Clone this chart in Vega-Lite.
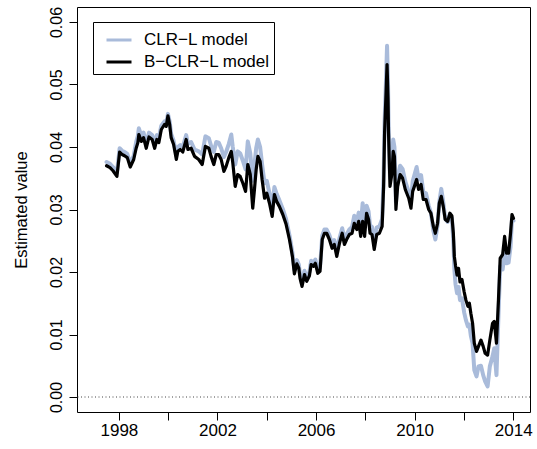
{
  "$schema": "https://vega.github.io/schema/vega-lite/v6.json",
  "width": 453,
  "height": 405,
  "autosize": {"type": "none"},
  "padding": {"left": 77, "top": 7, "right": 7, "bottom": 37},
  "background": "white",
  "datasets": {
    "series": [
      {"t": 1997.50, "CLR−L model": 0.0376, "B−CLR−L model": 0.0370},
      {"t": 1997.64, "CLR−L model": 0.0373, "B−CLR−L model": 0.0367},
      {"t": 1997.76, "CLR−L model": 0.0368, "B−CLR−L model": 0.0362},
      {"t": 1997.92, "CLR−L model": 0.0359, "B−CLR−L model": 0.0353},
      {"t": 1998.03, "CLR−L model": 0.0398, "B−CLR−L model": 0.0392},
      {"t": 1998.13, "CLR−L model": 0.0394, "B−CLR−L model": 0.0388},
      {"t": 1998.23, "CLR−L model": 0.0392, "B−CLR−L model": 0.0386},
      {"t": 1998.34, "CLR−L model": 0.0389, "B−CLR−L model": 0.0383},
      {"t": 1998.46, "CLR−L model": 0.0374, "B−CLR−L model": 0.0368},
      {"t": 1998.60, "CLR−L model": 0.0386, "B−CLR−L model": 0.0380},
      {"t": 1998.70, "CLR−L model": 0.0408, "B−CLR−L model": 0.0398},
      {"t": 1998.77, "CLR−L model": 0.0418, "B−CLR−L model": 0.0407},
      {"t": 1998.81, "CLR−L model": 0.0430, "B−CLR−L model": 0.0420},
      {"t": 1998.91, "CLR−L model": 0.0418, "B−CLR−L model": 0.0409},
      {"t": 1999.00, "CLR−L model": 0.0423, "B−CLR−L model": 0.0415},
      {"t": 1999.11, "CLR−L model": 0.0405, "B−CLR−L model": 0.0398},
      {"t": 1999.22, "CLR−L model": 0.0423, "B−CLR−L model": 0.0416},
      {"t": 1999.35, "CLR−L model": 0.0419, "B−CLR−L model": 0.0412},
      {"t": 1999.45, "CLR−L model": 0.0405, "B−CLR−L model": 0.0398},
      {"t": 1999.54, "CLR−L model": 0.0419, "B−CLR−L model": 0.0412},
      {"t": 1999.62, "CLR−L model": 0.0414, "B−CLR−L model": 0.0407},
      {"t": 1999.72, "CLR−L model": 0.0434, "B−CLR−L model": 0.0428},
      {"t": 1999.85, "CLR−L model": 0.0441, "B−CLR−L model": 0.0436},
      {"t": 1999.92, "CLR−L model": 0.0438, "B−CLR−L model": 0.0433},
      {"t": 1999.99, "CLR−L model": 0.0453, "B−CLR−L model": 0.0450},
      {"t": 2000.06, "CLR−L model": 0.0441, "B−CLR−L model": 0.0436},
      {"t": 2000.12, "CLR−L model": 0.0421, "B−CLR−L model": 0.0415},
      {"t": 2000.22, "CLR−L model": 0.0410, "B−CLR−L model": 0.0404},
      {"t": 2000.33, "CLR−L model": 0.0387, "B−CLR−L model": 0.0380},
      {"t": 2000.39, "CLR−L model": 0.0400, "B−CLR−L model": 0.0393},
      {"t": 2000.49, "CLR−L model": 0.0403, "B−CLR−L model": 0.0396},
      {"t": 2000.59, "CLR−L model": 0.0400, "B−CLR−L model": 0.0392},
      {"t": 2000.73, "CLR−L model": 0.0419, "B−CLR−L model": 0.0412},
      {"t": 2000.80, "CLR−L model": 0.0405, "B−CLR−L model": 0.0396},
      {"t": 2000.93, "CLR−L model": 0.0408, "B−CLR−L model": 0.0398},
      {"t": 2001.07, "CLR−L model": 0.0396, "B−CLR−L model": 0.0385},
      {"t": 2001.24, "CLR−L model": 0.0393, "B−CLR−L model": 0.0380},
      {"t": 2001.38, "CLR−L model": 0.0388, "B−CLR−L model": 0.0372},
      {"t": 2001.51, "CLR−L model": 0.0417, "B−CLR−L model": 0.0401},
      {"t": 2001.65, "CLR−L model": 0.0414, "B−CLR−L model": 0.0398},
      {"t": 2001.74, "CLR−L model": 0.0402, "B−CLR−L model": 0.0385},
      {"t": 2001.85, "CLR−L model": 0.0392, "B−CLR−L model": 0.0372},
      {"t": 2001.95, "CLR−L model": 0.0408, "B−CLR−L model": 0.0388},
      {"t": 2002.05, "CLR−L model": 0.0407, "B−CLR−L model": 0.0388},
      {"t": 2002.15, "CLR−L model": 0.0398, "B−CLR−L model": 0.0380},
      {"t": 2002.26, "CLR−L model": 0.0384, "B−CLR−L model": 0.0361},
      {"t": 2002.35, "CLR−L model": 0.0392, "B−CLR−L model": 0.0369},
      {"t": 2002.46, "CLR−L model": 0.0405, "B−CLR−L model": 0.0383},
      {"t": 2002.56, "CLR−L model": 0.0420, "B−CLR−L model": 0.0393},
      {"t": 2002.62, "CLR−L model": 0.0400, "B−CLR−L model": 0.0375},
      {"t": 2002.72, "CLR−L model": 0.0372, "B−CLR−L model": 0.0337},
      {"t": 2002.82, "CLR−L model": 0.0393, "B−CLR−L model": 0.0356},
      {"t": 2002.92, "CLR−L model": 0.0390, "B−CLR−L model": 0.0353},
      {"t": 2003.03, "CLR−L model": 0.0378, "B−CLR−L model": 0.0342},
      {"t": 2003.14, "CLR−L model": 0.0364, "B−CLR−L model": 0.0329},
      {"t": 2003.23, "CLR−L model": 0.0409, "B−CLR−L model": 0.0372},
      {"t": 2003.33, "CLR−L model": 0.0390, "B−CLR−L model": 0.0356},
      {"t": 2003.43, "CLR−L model": 0.0346, "B−CLR−L model": 0.0302},
      {"t": 2003.50, "CLR−L model": 0.0372, "B−CLR−L model": 0.0332},
      {"t": 2003.57, "CLR−L model": 0.0398, "B−CLR−L model": 0.0364},
      {"t": 2003.64, "CLR−L model": 0.0412, "B−CLR−L model": 0.0385},
      {"t": 2003.73, "CLR−L model": 0.0400, "B−CLR−L model": 0.0377},
      {"t": 2003.81, "CLR−L model": 0.0372, "B−CLR−L model": 0.0348},
      {"t": 2003.91, "CLR−L model": 0.0342, "B−CLR−L model": 0.0318},
      {"t": 2004.00, "CLR−L model": 0.0346, "B−CLR−L model": 0.0326},
      {"t": 2004.11, "CLR−L model": 0.0326, "B−CLR−L model": 0.0310},
      {"t": 2004.22, "CLR−L model": 0.0305, "B−CLR−L model": 0.0289},
      {"t": 2004.31, "CLR−L model": 0.0336, "B−CLR−L model": 0.0324},
      {"t": 2004.40, "CLR−L model": 0.0325, "B−CLR−L model": 0.0313},
      {"t": 2004.51, "CLR−L model": 0.0315, "B−CLR−L model": 0.0305},
      {"t": 2004.65, "CLR−L model": 0.0301, "B−CLR−L model": 0.0292},
      {"t": 2004.78, "CLR−L model": 0.0285, "B−CLR−L model": 0.0277},
      {"t": 2004.92, "CLR−L model": 0.0259, "B−CLR−L model": 0.0252},
      {"t": 2005.04, "CLR−L model": 0.0231, "B−CLR−L model": 0.0225},
      {"t": 2005.12, "CLR−L model": 0.0203, "B−CLR−L model": 0.0197},
      {"t": 2005.22, "CLR−L model": 0.0219, "B−CLR−L model": 0.0213},
      {"t": 2005.30, "CLR−L model": 0.0212, "B−CLR−L model": 0.0206},
      {"t": 2005.35, "CLR−L model": 0.0196, "B−CLR−L model": 0.0190},
      {"t": 2005.43, "CLR−L model": 0.0183, "B−CLR−L model": 0.0177},
      {"t": 2005.53, "CLR−L model": 0.0202, "B−CLR−L model": 0.0196},
      {"t": 2005.62, "CLR−L model": 0.0191, "B−CLR−L model": 0.0185},
      {"t": 2005.73, "CLR−L model": 0.0200, "B−CLR−L model": 0.0194},
      {"t": 2005.80, "CLR−L model": 0.0218, "B−CLR−L model": 0.0212},
      {"t": 2005.89, "CLR−L model": 0.0215, "B−CLR−L model": 0.0209},
      {"t": 2005.97, "CLR−L model": 0.0220, "B−CLR−L model": 0.0214},
      {"t": 2006.07, "CLR−L model": 0.0204, "B−CLR−L model": 0.0198},
      {"t": 2006.16, "CLR−L model": 0.0207, "B−CLR−L model": 0.0201},
      {"t": 2006.25, "CLR−L model": 0.0258, "B−CLR−L model": 0.0252},
      {"t": 2006.34, "CLR−L model": 0.0268, "B−CLR−L model": 0.0262},
      {"t": 2006.43, "CLR−L model": 0.0268, "B−CLR−L model": 0.0262},
      {"t": 2006.54, "CLR−L model": 0.0259, "B−CLR−L model": 0.0252},
      {"t": 2006.65, "CLR−L model": 0.0245, "B−CLR−L model": 0.0238},
      {"t": 2006.74, "CLR−L model": 0.0251, "B−CLR−L model": 0.0244},
      {"t": 2006.84, "CLR−L model": 0.0233, "B−CLR−L model": 0.0225},
      {"t": 2006.95, "CLR−L model": 0.0254, "B−CLR−L model": 0.0246},
      {"t": 2007.06, "CLR−L model": 0.0270, "B−CLR−L model": 0.0262},
      {"t": 2007.15, "CLR−L model": 0.0252, "B−CLR−L model": 0.0244},
      {"t": 2007.24, "CLR−L model": 0.0260, "B−CLR−L model": 0.0252},
      {"t": 2007.35, "CLR−L model": 0.0268, "B−CLR−L model": 0.0260},
      {"t": 2007.46, "CLR−L model": 0.0272, "B−CLR−L model": 0.0262},
      {"t": 2007.55, "CLR−L model": 0.0290, "B−CLR−L model": 0.0278},
      {"t": 2007.65, "CLR−L model": 0.0280, "B−CLR−L model": 0.0268},
      {"t": 2007.73, "CLR−L model": 0.0295, "B−CLR−L model": 0.0281},
      {"t": 2007.81, "CLR−L model": 0.0272, "B−CLR−L model": 0.0257},
      {"t": 2007.89, "CLR−L model": 0.0310, "B−CLR−L model": 0.0281},
      {"t": 2007.97, "CLR−L model": 0.0275, "B−CLR−L model": 0.0257},
      {"t": 2008.05, "CLR−L model": 0.0306, "B−CLR−L model": 0.0294},
      {"t": 2008.13, "CLR−L model": 0.0297, "B−CLR−L model": 0.0284},
      {"t": 2008.19, "CLR−L model": 0.0275, "B−CLR−L model": 0.0262},
      {"t": 2008.27, "CLR−L model": 0.0272, "B−CLR−L model": 0.0260},
      {"t": 2008.36, "CLR−L model": 0.0248, "B−CLR−L model": 0.0236},
      {"t": 2008.46, "CLR−L model": 0.0271, "B−CLR−L model": 0.0260},
      {"t": 2008.57, "CLR−L model": 0.0273, "B−CLR−L model": 0.0262},
      {"t": 2008.68, "CLR−L model": 0.0285, "B−CLR−L model": 0.0273},
      {"t": 2008.74, "CLR−L model": 0.0350, "B−CLR−L model": 0.0337},
      {"t": 2008.78, "CLR−L model": 0.0440, "B−CLR−L model": 0.0423},
      {"t": 2008.84, "CLR−L model": 0.0510, "B−CLR−L model": 0.0487},
      {"t": 2008.88, "CLR−L model": 0.0562, "B−CLR−L model": 0.0532},
      {"t": 2008.92, "CLR−L model": 0.0500, "B−CLR−L model": 0.0476},
      {"t": 2008.94, "CLR−L model": 0.0440, "B−CLR−L model": 0.0423},
      {"t": 2009.00, "CLR−L model": 0.0350, "B−CLR−L model": 0.0337},
      {"t": 2009.08, "CLR−L model": 0.0375, "B−CLR−L model": 0.0358},
      {"t": 2009.13, "CLR−L model": 0.0412, "B−CLR−L model": 0.0393},
      {"t": 2009.18, "CLR−L model": 0.0400, "B−CLR−L model": 0.0385},
      {"t": 2009.24, "CLR−L model": 0.0312, "B−CLR−L model": 0.0300},
      {"t": 2009.31, "CLR−L model": 0.0350, "B−CLR−L model": 0.0337},
      {"t": 2009.41, "CLR−L model": 0.0370, "B−CLR−L model": 0.0356},
      {"t": 2009.51, "CLR−L model": 0.0365, "B−CLR−L model": 0.0350},
      {"t": 2009.62, "CLR−L model": 0.0345, "B−CLR−L model": 0.0332},
      {"t": 2009.76, "CLR−L model": 0.0328, "B−CLR−L model": 0.0318},
      {"t": 2009.85, "CLR−L model": 0.0312, "B−CLR−L model": 0.0302},
      {"t": 2009.92, "CLR−L model": 0.0345, "B−CLR−L model": 0.0329},
      {"t": 2009.99, "CLR−L model": 0.0355, "B−CLR−L model": 0.0337},
      {"t": 2010.08, "CLR−L model": 0.0368, "B−CLR−L model": 0.0348},
      {"t": 2010.16, "CLR−L model": 0.0348, "B−CLR−L model": 0.0332},
      {"t": 2010.26, "CLR−L model": 0.0355, "B−CLR−L model": 0.0340},
      {"t": 2010.35, "CLR−L model": 0.0328, "B−CLR−L model": 0.0316},
      {"t": 2010.46, "CLR−L model": 0.0326, "B−CLR−L model": 0.0316},
      {"t": 2010.57, "CLR−L model": 0.0306, "B−CLR−L model": 0.0300},
      {"t": 2010.66, "CLR−L model": 0.0295, "B−CLR−L model": 0.0294},
      {"t": 2010.76, "CLR−L model": 0.0266, "B−CLR−L model": 0.0273},
      {"t": 2010.84, "CLR−L model": 0.0252, "B−CLR−L model": 0.0262},
      {"t": 2010.93, "CLR−L model": 0.0275, "B−CLR−L model": 0.0278},
      {"t": 2011.00, "CLR−L model": 0.0312, "B−CLR−L model": 0.0310},
      {"t": 2011.08, "CLR−L model": 0.0333, "B−CLR−L model": 0.0321},
      {"t": 2011.16, "CLR−L model": 0.0312, "B−CLR−L model": 0.0305},
      {"t": 2011.24, "CLR−L model": 0.0285, "B−CLR−L model": 0.0284},
      {"t": 2011.34, "CLR−L model": 0.0280, "B−CLR−L model": 0.0281},
      {"t": 2011.43, "CLR−L model": 0.0293, "B−CLR−L model": 0.0294},
      {"t": 2011.51, "CLR−L model": 0.0286, "B−CLR−L model": 0.0290},
      {"t": 2011.57, "CLR−L model": 0.0250, "B−CLR−L model": 0.0262},
      {"t": 2011.61, "CLR−L model": 0.0205, "B−CLR−L model": 0.0225},
      {"t": 2011.66, "CLR−L model": 0.0180, "B−CLR−L model": 0.0210},
      {"t": 2011.72, "CLR−L model": 0.0166, "B−CLR−L model": 0.0195},
      {"t": 2011.78, "CLR−L model": 0.0176, "B−CLR−L model": 0.0206},
      {"t": 2011.84, "CLR−L model": 0.0155, "B−CLR−L model": 0.0184},
      {"t": 2011.92, "CLR−L model": 0.0158, "B−CLR−L model": 0.0188},
      {"t": 2012.01, "CLR−L model": 0.0135, "B−CLR−L model": 0.0168},
      {"t": 2012.08, "CLR−L model": 0.0123, "B−CLR−L model": 0.0155},
      {"t": 2012.16, "CLR−L model": 0.0113, "B−CLR−L model": 0.0145},
      {"t": 2012.22, "CLR−L model": 0.0116, "B−CLR−L model": 0.0150},
      {"t": 2012.28, "CLR−L model": 0.0098, "B−CLR−L model": 0.0134},
      {"t": 2012.35, "CLR−L model": 0.0086, "B−CLR−L model": 0.0118},
      {"t": 2012.42, "CLR−L model": 0.0043, "B−CLR−L model": 0.0086},
      {"t": 2012.51, "CLR−L model": 0.0033, "B−CLR−L model": 0.0073},
      {"t": 2012.59, "CLR−L model": 0.0049, "B−CLR−L model": 0.0081},
      {"t": 2012.69, "CLR−L model": 0.0050, "B−CLR−L model": 0.0091},
      {"t": 2012.78, "CLR−L model": 0.0035, "B−CLR−L model": 0.0081},
      {"t": 2012.86, "CLR−L model": 0.0025, "B−CLR−L model": 0.0070},
      {"t": 2012.96, "CLR−L model": 0.0017, "B−CLR−L model": 0.0067},
      {"t": 2013.05, "CLR−L model": 0.0049, "B−CLR−L model": 0.0091},
      {"t": 2013.16, "CLR−L model": 0.0065, "B−CLR−L model": 0.0118},
      {"t": 2013.23, "CLR−L model": 0.0078, "B−CLR−L model": 0.0121},
      {"t": 2013.32, "CLR−L model": 0.0035, "B−CLR−L model": 0.0086},
      {"t": 2013.40, "CLR−L model": 0.0130, "B−CLR−L model": 0.0155},
      {"t": 2013.47, "CLR−L model": 0.0209, "B−CLR−L model": 0.0222},
      {"t": 2013.57, "CLR−L model": 0.0204, "B−CLR−L model": 0.0228},
      {"t": 2013.65, "CLR−L model": 0.0230, "B−CLR−L model": 0.0257},
      {"t": 2013.73, "CLR−L model": 0.0214, "B−CLR−L model": 0.0230},
      {"t": 2013.81, "CLR−L model": 0.0215, "B−CLR−L model": 0.0230},
      {"t": 2013.89, "CLR−L model": 0.0240, "B−CLR−L model": 0.0262},
      {"t": 2013.95, "CLR−L model": 0.0284, "B−CLR−L model": 0.0292},
      {"t": 2014.01, "CLR−L model": 0.0282, "B−CLR−L model": 0.0286}
    ]
  },
  "layer": [
    {
      "data": {"values": [{}]},
      "mark": {"type": "rule", "color": "#444444", "strokeWidth": 1, "strokeDash": [1, 2.5]},
      "encoding": {
        "y": {"datum": 0, "type": "quantitative"}
      }
    },
    {
      "data": {"name": "series"},
      "transform": [
        {"fold": ["CLR−L model", "B−CLR−L model"], "as": ["model", "value"]},
        {"filter": "datum.model === 'CLR−L model'"}
      ],
      "mark": {"type": "line", "strokeWidth": 4, "strokeJoin": "round", "strokeCap": "round"},
      "encoding": {
        "x": {"field": "t", "type": "quantitative"},
        "y": {"field": "value", "type": "quantitative"},
        "color": {"field": "model", "type": "nominal"}
      }
    },
    {
      "data": {"name": "series"},
      "transform": [
        {"fold": ["CLR−L model", "B−CLR−L model"], "as": ["model", "value"]},
        {"filter": "datum.model === 'B−CLR−L model'"}
      ],
      "mark": {"type": "line", "strokeWidth": 3.2, "strokeJoin": "round", "strokeCap": "round"},
      "encoding": {
        "x": {"field": "t", "type": "quantitative"},
        "y": {"field": "value", "type": "quantitative"},
        "color": {"field": "model", "type": "nominal"}
      }
    }
  ],
  "resolve": {"scale": {"x": "shared", "y": "shared", "color": "shared"}},
  "encoding": {
    "x": {
      "type": "quantitative",
      "scale": {"domain": [1996.3, 2014.68], "nice": false, "zero": false},
      "axis": {
        "title": null,
        "values": [1998, 2000, 2002, 2004, 2006, 2008, 2010, 2012, 2014],
        "format": "d",
        "labelExpr": "datum.value % 4 == 2 ? datum.label : ''",
        "labelFontSize": 17,
        "labelPadding": 2,
        "labelFlush": false,
        "labelOverlap": false
      }
    },
    "y": {
      "type": "quantitative",
      "scale": {"domain": [-0.0024, 0.0624], "nice": false, "zero": false},
      "axis": {
        "title": "Estimated value",
        "values": [0, 0.01, 0.02, 0.03, 0.04, 0.05, 0.06],
        "format": ".2f",
        "labelAngle": -90,
        "labelAlign": "center",
        "labelBaseline": "bottom",
        "labelFontSize": 16,
        "labelPadding": 5,
        "titleFontSize": 16.5,
        "titlePadding": 19
      }
    },
    "color": {
      "type": "nominal",
      "scale": {"domain": ["CLR−L model", "B−CLR−L model"], "range": ["#A9BBDA", "#000000"]},
      "legend": {
        "title": null,
        "orient": "none",
        "legendX": 16,
        "legendY": 15,
        "direction": "vertical",
        "strokeColor": "#000000",
        "fillColor": "white",
        "padding": 4,
        "symbolType": "stroke",
        "symbolSize": 625,
        "symbolStrokeWidth": 3,
        "symbolOffset": 8,
        "labelOffset": 11,
        "labelFontSize": 17,
        "labelColor": "black",
        "rowPadding": -10,
        "labelExpr": "datum.label + '\u00a0\u00a0\u00a0\u00a0'"
      }
    }
  },
  "config": {
    "font": "Liberation Sans",
    "view": {"stroke": "#000000", "strokeWidth": 1},
    "axis": {
      "grid": false,
      "domain": false,
      "ticks": true,
      "tickSize": 8,
      "tickColor": "#000000",
      "tickWidth": 1,
      "labelColor": "#000000",
      "titleColor": "#000000",
      "titleFontWeight": "normal",
      "labelFont": "Liberation Sans",
      "titleFont": "Liberation Sans"
    },
    "legend": {"labelFont": "Liberation Sans"}
  }
}
